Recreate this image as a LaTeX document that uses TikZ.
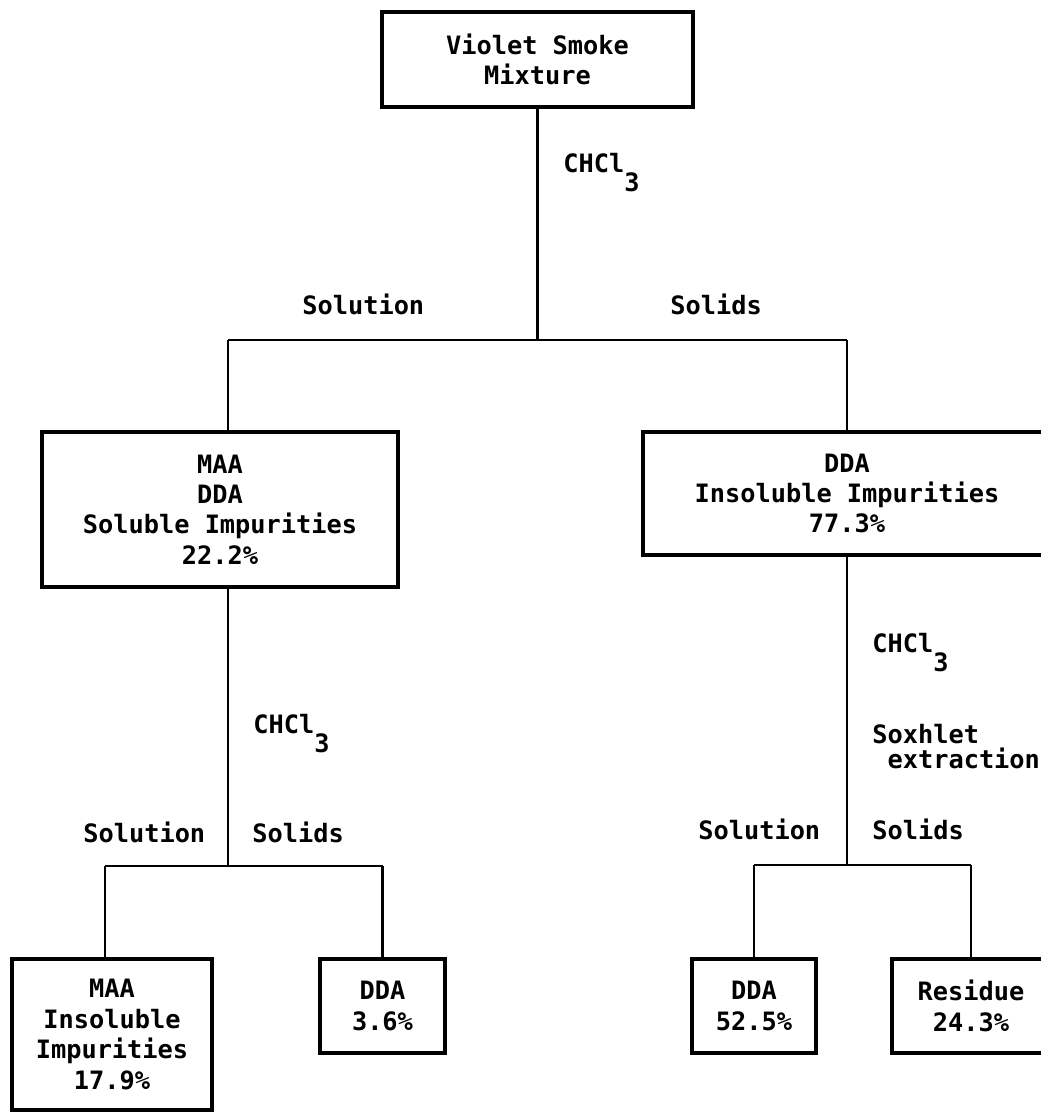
\documentclass[tikz,border=0pt]{standalone}
\usepackage{fontspec}
\setmonofont{DejaVu Sans Mono}
\usetikzlibrary{positioning}

\begin{document}
\begin{tikzpicture}[
    box/.style={draw, line width=2pt, align=center, inner sep=0pt},
    lbl/.style={inner sep=0pt, anchor=base west},
    link/.style={line width=1.6pt},
    font=\ttfamily\bfseries\fontsize{14.4}{17.3}\selectfont
]
    \useasboundingbox (0,0) rectangle (20.82,-22.24);

    % Starting mixture
    \node [box, minimum width=6.22cm, minimum height=1.9cm] (mix) at (10.75,-1.19) {Violet Smoke\\Mixture};
    \node [lbl] (c1) at (11.26,-3.44) {CHCl\raisebox{-0.38cm}{3}};
    \node [lbl] (sln1) at (6.04,-6.28) {Solution};
    \node [lbl] (sld1) at (13.40,-6.28) {Solids};

    % First split
    \coordinate (j1) at (10.75,-6.80);
    \coordinate (j1l) at (4.56,-6.80);
    \coordinate (j1r) at (16.94,-6.80);

    \node [box, minimum width=7.12cm, minimum height=3.1cm] (sol) at (4.40,-10.19) {MAA\\DDA\\Soluble Impurities\\22.2\%};
    \node [box, minimum width=8.16cm, minimum height=2.46cm] (ins) at (16.94,-9.87) {DDA\\Insoluble Impurities\\77.3\%};

    \draw [link] (mix.south) -- (j1);
    \draw [link] (j1l) -- (j1r);
    \draw [link] (j1l) -- (j1l |- sol.north);
    \draw [link] (j1r) -- (ins.north);

    % Solution branch
    \coordinate (j2) at (4.56,-17.32);
    \coordinate (j2l) at (2.10,-17.32);
    \coordinate (j2r) at (7.65,-17.32);
    \node [lbl] (c2) at (5.06,-14.66) {CHCl\raisebox{-0.38cm}{3}};
    \node [lbl] (sln2) at (1.66,-16.84) {Solution};
    \node [lbl] (sld2) at (5.04,-16.84) {Solids};

    \node [box, minimum width=4cm, minimum height=3.02cm] (maa) at (2.24,-20.69) {MAA\\Insoluble\\Impurities\\17.9\%};
    \node [box, minimum width=2.5cm, minimum height=1.88cm] (ddaa) at (7.65,-20.12) {DDA\\3.6\%};

    \draw [link] (sol.south -| j2) -- (j2);
    \draw [link] (j2l) -- (j2r);
    \draw [link] (j2l) -- (j2l |- maa.north);
    \draw [link] (j2r) -- (ddaa.north);

    % Solids branch
    \coordinate (j3) at (16.94,-17.30);
    \coordinate (j3l) at (15.08,-17.30);
    \coordinate (j3r) at (19.42,-17.30);
    \node [lbl] (c3) at (17.44,-13.04) {CHCl\raisebox{-0.38cm}{3}};
    \node [inner sep=0pt, anchor=north west, align=left] (sox) at (17.44,-14.48) {Soxhlet\\[-3pt]\hspace*{0.305cm}extraction};
    \node [lbl] (sln3) at (13.96,-16.78) {Solution};
    \node [lbl] (sld3) at (17.44,-16.78) {Solids};

    \node [box, minimum width=2.48cm, minimum height=1.88cm] (ddab) at (15.08,-20.12) {DDA\\52.5\%};
    \node [box, minimum width=3.16cm, minimum height=1.88cm] (res) at (19.42,-20.12) {Residue\\24.3\%};

    \draw [link] (ins.south) -- (j3);
    \draw [link] (j3l) -- (j3r);
    \draw [link] (j3l) -- (ddab.north);
    \draw [link] (j3r) -- (res.north);
\end{tikzpicture}
\end{document}
